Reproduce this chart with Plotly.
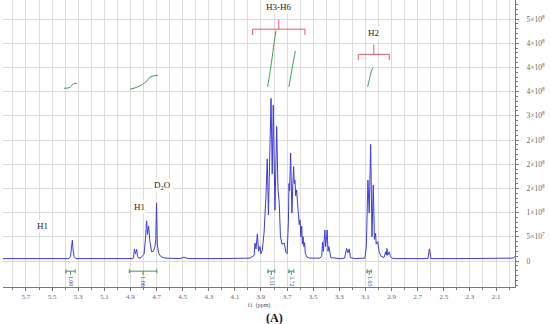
import plotly.graph_objects as go

# 1H NMR spectrum (intensity in units of 1e8)
spec_ppm = [5.876, 5.440, 5.371, 5.359, 5.352, 5.345, 5.340, 5.332, 5.317,
            5.133, 4.903, 4.880, 4.876, 4.870, 4.861, 4.852, 4.845, 4.838,
            4.819, 4.796, 4.785, 4.776, 4.769, 4.761, 4.751, 4.738, 4.724,
            4.712, 4.706, 4.700, 4.694, 4.685, 4.670, 4.650, 4.628,
            4.520, 4.490, 4.459, 4.214, 4.023, 3.984, 3.961,
            3.952, 3.946, 3.938, 3.928, 3.918, 3.908, 3.900, 3.890,
            3.876, 3.861, 3.852, 3.843, 3.823, 3.814, 3.806, 3.793, 3.780,
            3.770, 3.760, 3.751, 3.739, 3.722, 3.709,
            3.700, 3.690, 3.686, 3.681, 3.673, 3.667, 3.663, 3.656, 3.650,
            3.645, 3.640, 3.634, 3.627, 3.620, 3.614, 3.607, 3.601, 3.595,
            3.588, 3.583, 3.578, 3.571, 3.566, 3.561, 3.548, 3.525,
            3.449, 3.435, 3.428, 3.422, 3.411, 3.405, 3.393, 3.387, 3.380,
            3.372, 3.365, 3.296, 3.260, 3.244, 3.234, 3.224, 3.215, 3.180,
            3.104, 3.093, 3.081, 3.071, 3.060, 3.050, 3.040, 3.031, 3.022,
            3.018, 3.006, 2.996, 2.981, 2.958, 2.945, 2.940, 2.935, 2.930,
            2.917, 2.910, 2.897, 2.874, 2.621, 2.610, 2.598, 2.376,
            1.993, 1.970, 1.955]
spec_int = [0.05, 0.05, 0.05, 0.09, 0.25, 0.43, 0.25, 0.09, 0.05,
            0.05, 0.05, 0.05, 0.08, 0.25, 0.15, 0.24, 0.09, 0.06,
            0.07, 0.14, 0.45, 0.83, 0.55, 0.72, 0.40, 0.19, 0.20,
            0.30, 0.45, 1.20, 0.35, 0.17, 0.10, 0.07, 0.06,
            0.05, 0.08, 0.05, 0.05, 0.05, 0.06, 0.10,
            0.12, 0.37, 0.25, 0.56, 0.20, 0.30, 0.15, 0.22,
            0.60, 1.40, 2.11, 0.95, 3.36, 1.80, 3.22, 1.05, 2.78,
            1.50, 1.19, 0.50, 0.35, 0.37, 0.18,
            0.15, 0.80, 1.60, 1.45, 2.23, 1.30, 0.99, 1.60, 1.95,
            1.60, 1.67, 1.35, 1.47, 1.20, 1.00, 0.75, 0.85, 0.50,
            0.72, 0.35, 0.50, 0.30, 0.38, 0.16, 0.08, 0.06,
            0.06, 0.10, 0.39, 0.20, 0.64, 0.30, 0.64, 0.20, 0.30,
            0.10, 0.07, 0.05, 0.06, 0.26, 0.17, 0.25, 0.07, 0.05,
            0.06, 0.30, 1.67, 0.99, 2.41, 0.50, 1.57, 0.45, 0.57,
            0.35, 0.40, 0.20, 0.10, 0.07, 0.19, 0.12, 0.26, 0.12,
            0.19, 0.10, 0.06, 0.05, 0.05, 0.25, 0.05, 0.05,
            0.05, 0.06, 0.09]

# integral curves
int_curves = [
    ([5.41, 5.37, 5.35, 5.345, 5.31], [3.57, 3.58, 3.62, 3.65, 3.67]),
    ([4.903, 4.842, 4.781, 4.750, 4.689], [3.55, 3.60, 3.70, 3.80, 3.84]),
    ([3.850, 3.840, 3.820, 3.800, 3.785], [3.60, 3.75, 4.10, 4.50, 4.76]),
    ([3.686, 3.670, 3.650, 3.637], [3.60, 3.85, 4.15, 4.34]),
    ([3.083, 3.070, 3.055, 3.042], [3.60, 3.75, 3.92, 3.99]),
]

# integral ranges and values shown below the baseline
int_ranges = [(5.394, 5.323), (4.908, 4.698), (3.846, 3.795), (3.686, 3.648), (3.087, 3.054)]
int_values = ["1.00", "1.08", "3.11", "3.72", "1.03"]

# group brackets: (left ppm, right ppm, level, label)
brackets = [(3.964, 3.563, 4.79, "H3-H6"), (3.155, 2.917, 4.27, "H2")]

# peak labels
peak_labels = ["H1", "H1", "D<sub>2</sub>O"]
peak_label_ppm = [5.577, 4.827, 4.651]
peak_label_int = [0.72, 1.12, 1.57]

# axis ticks
y_ticks = [0, 0.5, 1.0, 1.5, 2.0, 2.5, 3.0, 3.5, 4.0, 4.5, 5.0]
y_labels = ["0", "5×10<sup>7</sup>", "1×10<sup>8</sup>", "2×10<sup>8</sup>", "2×10<sup>8</sup>",
            "2×10<sup>8</sup>", "3×10<sup>8</sup>", "4×10<sup>8</sup>", "4×10<sup>8</sup>",
            "4×10<sup>8</sup>", "5×10<sup>8</sup>"]

SERIF = "Liberation Serif"
GREEN = "#3f9a5c"
RED = "#e8546a"

fig = go.Figure()

fig.add_trace(go.Scatter(x=spec_ppm, y=spec_int, mode="lines",
                         line=dict(color="#3c3cdc", width=1), hoverinfo="skip"))

for xs, ys in int_curves:
    fig.add_trace(go.Scatter(x=xs, y=ys, mode="lines",
                             line=dict(color=GREEN, width=1, shape="spline"), hoverinfo="skip"))

annotations = []
for (a, b), v in zip(int_ranges, int_values):
    mid = (a + b) / 2
    fig.add_trace(go.Scatter(x=[a, a, a, None, a, b, None, b, b, None, mid, mid],
                             y=[-0.17, -0.25, -0.21, None, -0.21, -0.21, None, -0.17, -0.25, None, -0.21, -0.29],
                             mode="lines", line=dict(color=GREEN, width=1), hoverinfo="skip"))
    annotations.append(dict(x=mid, y=-0.42, text=v, showarrow=False, textangle=90,
                            font=dict(family=SERIF, size=6, color="#3a3a8a")))

for a, b, lev, lab in brackets:
    mid = (a + b) / 2
    fig.add_trace(go.Scatter(x=[a, a, b, b, None, mid, mid],
                             y=[lev - 0.12, lev, lev, lev - 0.12, None, lev, lev + 0.2],
                             mode="lines", line=dict(color=RED, width=1), hoverinfo="skip"))
    annotations.append(dict(x=mid, y=lev + 0.45, text=lab, showarrow=False, bgcolor="white",
                            font=dict(family=SERIF, size=9, color="#222")))

for t, px, py in zip(peak_labels, peak_label_ppm, peak_label_int):
    annotations.append(dict(x=px, y=py, text=t, showarrow=False, bgcolor="white",
                            font=dict(family=SERIF, size=9, color="#222")))

annotations.append(dict(x=0.531, y=-0.108, xref="paper", yref="paper", text="<b>(A)</b>",
                        xanchor="center", yanchor="middle",
                        showarrow=False, font=dict(family=SERIF, size=12, color="#111")))

fig.update_layout(
    width=550, height=324,
    margin=dict(l=3, r=35, t=0, b=37),
    paper_bgcolor="white", plot_bgcolor="white",
    showlegend=False,
    annotations=annotations,
    xaxis=dict(range=[5.876, 1.9545], tick0=2.1, dtick=0.2,
               showgrid=True, gridcolor="#dcdcdc", gridwidth=1,
               showline=True, linecolor="#777", linewidth=1,
               ticks="outside", ticklen=3, tickcolor="#777",
               minor=dict(dtick=0.1, tick0=2.0, ticks="outside", ticklen=2, tickcolor="#777",
                          showgrid=True, gridcolor="#dcdcdc", gridwidth=1),
               tickfont=dict(family=SERIF, size=7, color="#666"),
               title=dict(text="f1  (ppm)", font=dict(family=SERIF, size=6, color="#555"), standoff=2),
               zeroline=False),
    yaxis=dict(range=[-0.537, 5.393], side="right", tickvals=y_ticks, ticktext=y_labels,
               showgrid=True, gridcolor="#dcdcdc", gridwidth=1,
               showline=True, linecolor="#777", linewidth=1,
               ticks="outside", ticklen=3, tickcolor="#777",
               minor=dict(dtick=0.1, ticks="outside", ticklen=2, tickcolor="#777", showgrid=False),
               tickfont=dict(family=SERIF, size=7.5, color="#666"),
               ticklabelstandoff=6, zeroline=False),
)

fig.write_html("out.html", config={"displayModeBar": False},
               post_script="document.body.style.margin='0px';")
